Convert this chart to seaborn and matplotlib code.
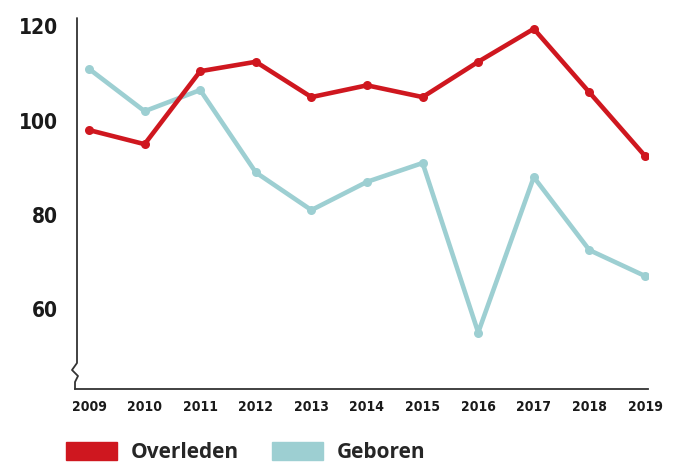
import pandas as pd
import numpy as np
import matplotlib.pyplot as plt
import seaborn as sns
from matplotlib import font_manager
from matplotlib.patches import Patch

sns.set_style("white")

# condensed font for the numbers, if there is one
num_font = 'Roboto'
num_stretch = 'normal'
for name in ['Liberation Sans Narrow', 'DejaVu Sans']:
    try:
        fp = font_manager.FontProperties(family=name, weight='bold',
                                         stretch='condensed')
        path = font_manager.findfont(fp, fallback_to_default=False)
        if 'Narrow' in path or 'Condensed' in path:
            num_font = name
            num_stretch = 'condensed'
            break
    except Exception:
        pass

plt.rcParams['font.family'] = [num_font, 'DejaVu Sans']

# Data
years = [2009, 2010, 2011, 2012, 2013, 2014, 2015, 2016, 2017, 2018, 2019]
overleden = [98, 95, 110.5, 112.5, 105, 107.5, 105, 112.5, 119.5, 106, 92.5]
geboren = [111, 102, 106.5, 89, 81, 87, 91, 55, 88, 72.5, 67]
y_ticks = [60, 80, 100, 120]

red = '#cf171f'
teal = '#9dcfd2'

df = pd.DataFrame({
    'year': years * 2,
    'value': geboren + overleden,
    'series': ['Geboren'] * len(years) + ['Overleden'] * len(years),
})

fig = plt.figure(figsize=(6.84, 4.65), dpi=100)
ax = fig.add_axes([75 / 684, 1 - 389 / 465, (648 - 75) / 684, (389 - 18) / 465])

sns.lineplot(data=df, x='year', y='value', hue='series',
             hue_order=['Geboren', 'Overleden'],
             palette={'Geboren': teal, 'Overleden': red},
             marker='o', markersize=6.5, markeredgewidth=0,
             linewidth=3.3, legend=False, ax=ax)

ax.set_xlim(2009 - 14 / 55.6, 2019 + 3 / 55.6)
ax.set_ylim(43.0, 121.8)
ax.set_xticks(years)
ax.set_yticks(y_ticks)
ax.set_xlabel('')
ax.set_ylabel('')

for s in ['top', 'right', 'left']:
    ax.spines[s].set_visible(False)
ax.spines['bottom'].set_color('#333333')
ax.spines['bottom'].set_linewidth(1.3)

if num_font == 'Liberation Sans Narrow':
    xsize, ysize = 12, 17
elif num_stretch == 'condensed':
    xsize, ysize = 10, 15
else:
    xsize, ysize = 11, 16

ax.tick_params(axis='x', direction='in', length=8, width=1.2, color='#333333',
               pad=8, labelsize=xsize)
ax.tick_params(axis='y', length=0, pad=12, labelsize=ysize)
for lab in ax.get_xticklabels() + ax.get_yticklabels():
    lab.set_fontweight('heavy')
    lab.set_fontstretch(num_stretch)
    lab.set_color('#1a1a1a')

# broken y axis line with zigzag
h = 389 - 18
zx = np.array([2, 2, -3, 3, 0, 0]) / 573
zy = 1 - np.array([0, 345, 352, 358, 364, 371]) / h
ax.plot(zx, zy, transform=ax.transAxes, color='#333333', lw=1.3, clip_on=False)

handles = [Patch(color=red, label='Overleden'), Patch(color=teal, label='Geboren')]
fig.legend(handles=handles, loc='lower left', bbox_to_anchor=(66 / 684, 2 / 465),
           ncol=2, frameon=False, handlelength=2.45, handleheight=1.0,
           handletextpad=0.65, columnspacing=1.6, borderpad=0, borderaxespad=0,
           prop={'family': 'Open Sans', 'weight': 'bold', 'size': 15})

fig.savefig('out.png', dpi=100)
